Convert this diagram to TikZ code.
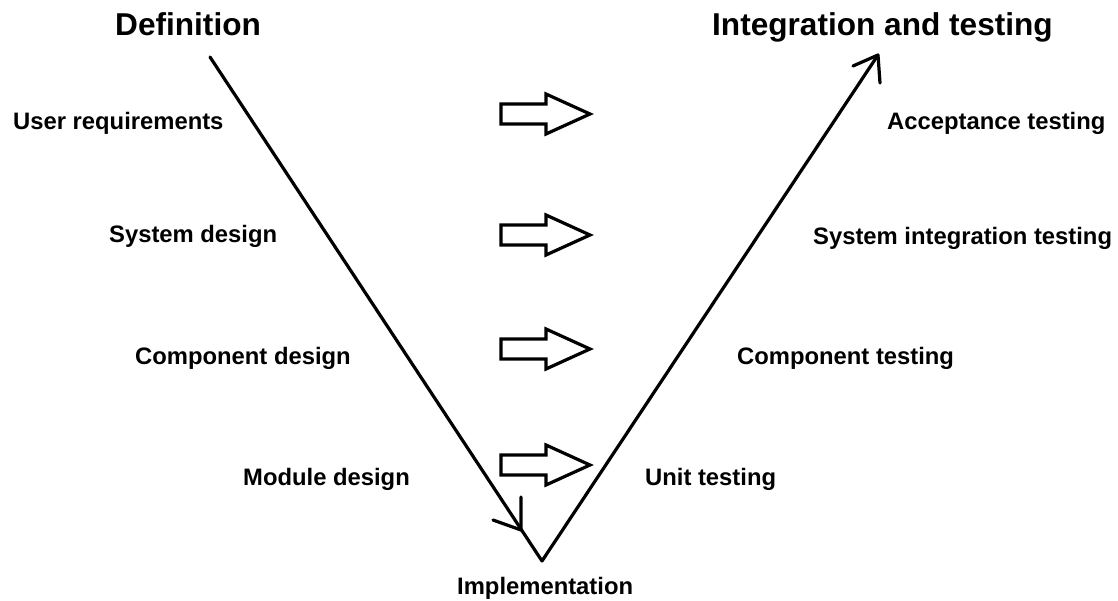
\documentclass[tikz,border=0pt]{standalone}
\usepackage{fontspec}
\setmainfont{Liberation Sans}

\begin{document}
\begin{tikzpicture}[x=1pt,y=-1pt,
titlenode/.style={anchor=base west, inner sep=0pt, font=\bfseries\fontsize{31.6}{36}\selectfont},
labelnode/.style={anchor=base west, inner sep=0pt, font=\bfseries\fontsize{23.8}{28}\selectfont},
vline/.style={line width=3.2pt, line cap=round, line join=round},
blockarrow/.style={draw=black, line width=3.2pt, line join=miter}
]
\useasboundingbox (0,0) rectangle (1118,601);

%Nodes
\node[titlenode] (definition) at (115,36) {Definition};
\node[titlenode] (integration) at (712,36) {Integration and testing};
\node[labelnode] (userreq) at (13,130) {User requirements};
\node[labelnode] (sysdesign) at (109,243) {System design};
\node[labelnode] (compdesign) at (135,364) {Component design};
\node[labelnode] (moddesign) at (243,485) {Module design};
\node[labelnode] (impl) at (457,594) {Implementation};
\node[labelnode] (unittest) at (645,485) {Unit testing};
\node[labelnode] (comptest) at (737,364) {Component testing};
\node[labelnode] (systest) at (813,245) {System integration testing};
\node[labelnode] (acctest) at (887,130) {Acceptance testing};

%Lines
\coordinate (start) at (210,57);
\coordinate (bottom) at (542,561);
\coordinate (end) at (878,55);
\coordinate (midtip) at (521,530);
\draw[vline] (start) -- (bottom) -- (end);
\draw[vline] (midtip) -- ++(0,-33) (midtip) -- ++(-28,-10);
\draw[vline] (end) -- ++(-25,11) (end) -- ++(2,28);

%Block arrows
\foreach \y in {114,235,349,465}
  \draw[blockarrow] (501,\y-10) -- (546,\y-10) -- (546,\y-20) -- (590,\y)
    -- (546,\y+20) -- (546,\y+10) -- (501,\y+10) -- cycle;

\end{tikzpicture}
\end{document}
